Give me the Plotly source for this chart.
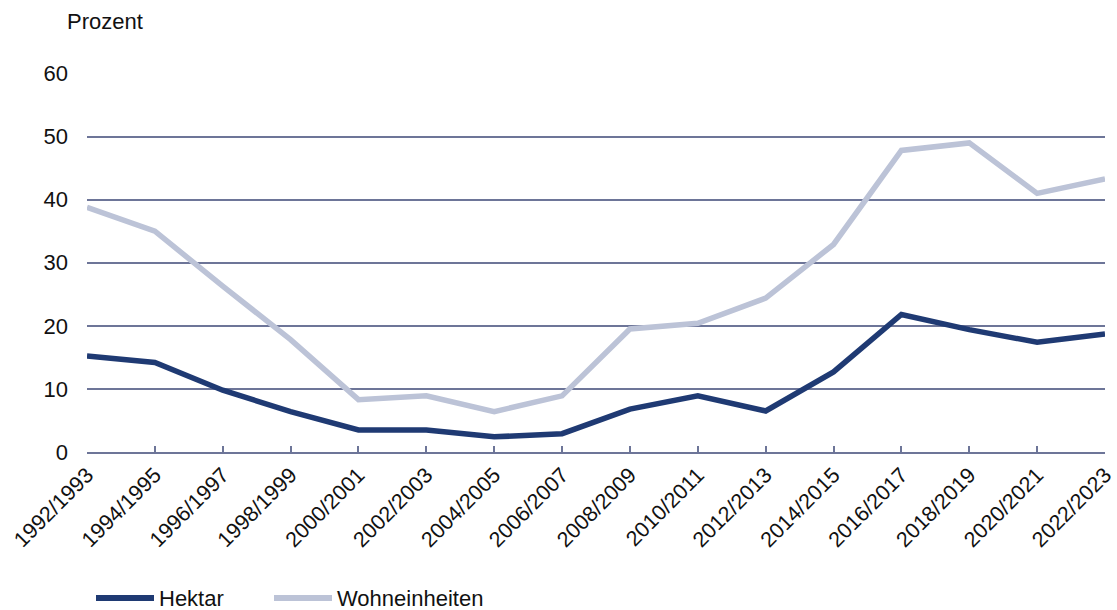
import plotly.graph_objects as go

periods = ["1992/1993", "1994/1995", "1996/1997", "1998/1999", "2000/2001", "2002/2003",
           "2004/2005", "2006/2007", "2008/2009", "2010/2011", "2012/2013", "2014/2015",
           "2016/2017", "2018/2019", "2020/2021", "2022/2023"]
hektar = [15.2, 14.2, 9.8, 6.4, 3.5, 3.5, 2.4, 2.9, 6.8, 8.9, 6.5, 12.7, 21.8, 19.4, 17.4, 18.7]
wohneinheiten = [38.8, 35.0, 26.3, 17.8, 8.3, 8.9, 6.4, 8.9, 19.5, 20.4, 24.4, 32.9, 47.8, 49.0, 41.0, 43.3]
y_ticks = [0, 10, 20, 30, 40, 50, 60]
series = [("Hektar", hektar, "#1f3a73"), ("Wohneinheiten", wohneinheiten, "#bcc3d7")]

GRID = "#6d7598"
FONT = "Liberation Sans, Arial, sans-serif"

L, R, T, B = 87, 12, 73, 158
W, H = 1117, 610
PW, PH = W - L - R, H - T - B


def px_x(px):
    return (px - L) / PW


def px_y(py):
    return (H - B - py) / PH


fig = go.Figure()
for name, vals, col in series:
    fig.add_trace(go.Scatter(x=periods, y=vals, mode="lines", name=name,
                             line=dict(color=col, width=5.5), showlegend=False))

# legend drawn manually (longer line samples, as in the reference)
LEG_Y = 598
legend_items = [(96, 154, 158), (274, 332, 336)]
shapes, annotations = [], []
for (x0, x1, xt), (name, _, col) in zip(legend_items, series):
    shapes.append(dict(type="line", xref="paper", yref="paper",
                       x0=px_x(x0), x1=px_x(x1), y0=px_y(LEG_Y), y1=px_y(LEG_Y),
                       line=dict(color=col, width=6)))
    annotations.append(dict(text=name, xref="paper", yref="paper", x=px_x(xt), y=px_y(LEG_Y),
                            xanchor="left", yanchor="middle", showarrow=False,
                            font=dict(size=22), borderpad=0))

annotations.append(dict(text="Prozent", xref="paper", yref="paper",
                        x=px_x(66), y=px_y(22), xanchor="left", yanchor="middle",
                        showarrow=False, font=dict(size=22), borderpad=0))

fig.update_layout(
    width=W, height=H,
    margin=dict(l=L, r=R, t=T, b=B, autoexpand=False),
    plot_bgcolor="white", paper_bgcolor="white",
    font=dict(family=FONT, size=22, color="#111111"),
    showlegend=False,
    xaxis=dict(type="category", range=[0, len(periods) - 1], tickangle=-45,
               showgrid=False, showline=True, linecolor=GRID, linewidth=2,
               ticks="inside", ticklen=6, tickcolor=GRID, tickwidth=1.5,
               tickfont=dict(size=21.5), automargin=False),
    yaxis=dict(range=[0, 60.08], tickvals=y_ticks, showgrid=True, gridcolor=GRID, gridwidth=1.5,
               zeroline=False, showline=False, ticks="", ticklabelstandoff=18,
               tickfont=dict(size=22), automargin=False),
    shapes=shapes,
    annotations=annotations,
)

fig.write_html("out.html")
